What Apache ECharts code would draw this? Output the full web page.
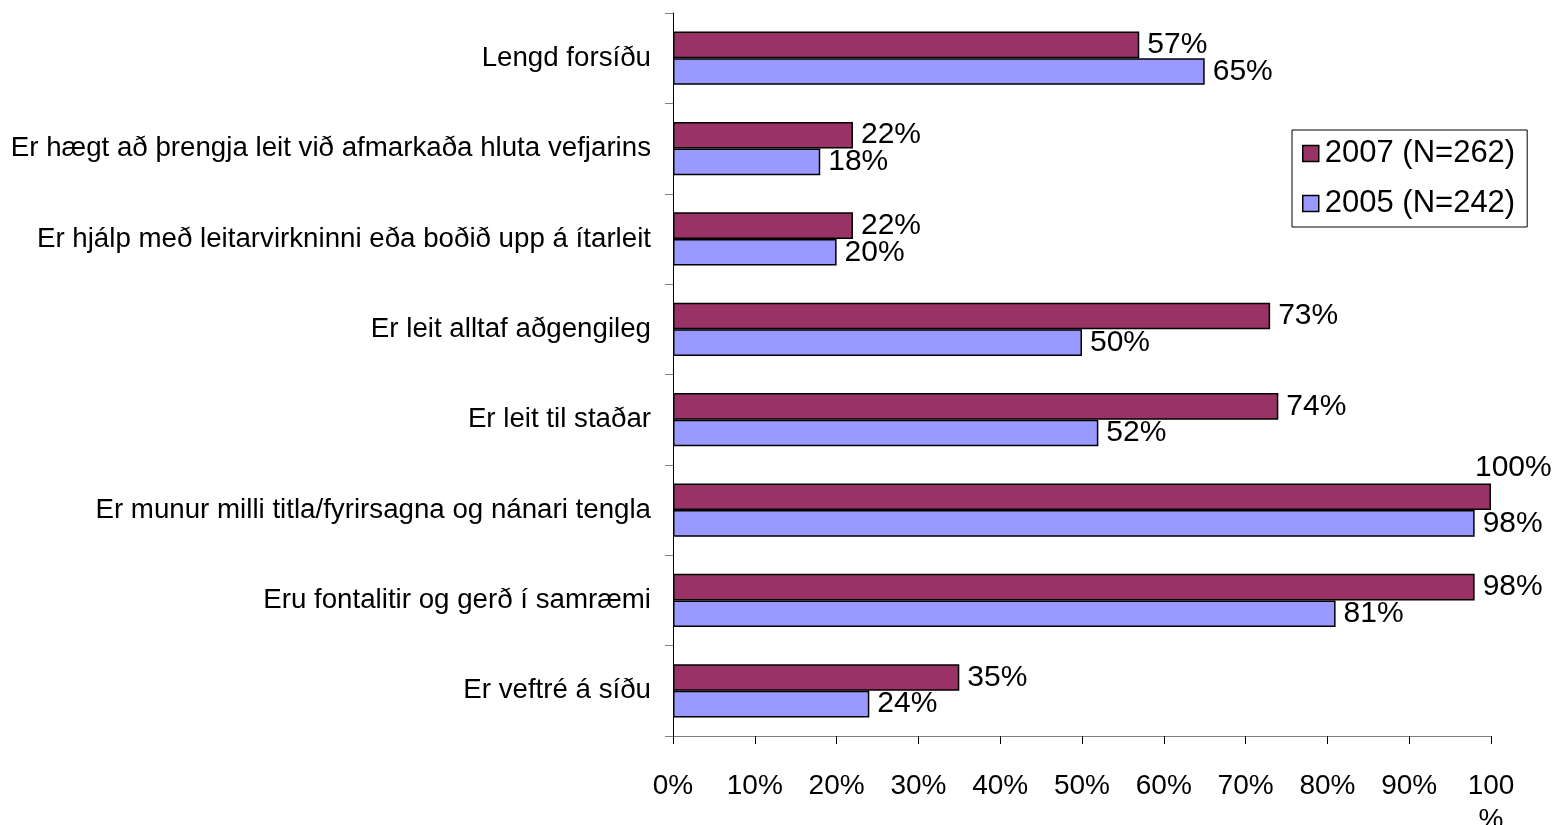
<!DOCTYPE html>
<html>
<head>
<meta charset="utf-8">
<script src="https://cdn.jsdelivr.net/npm/echarts@6/dist/echarts.min.js"></script>
<style>
    html, body { margin: 0; padding: 0; background: #fff; }
    #chart { width: 1556px; height: 825px; }
</style>
</head>
<body>
<div id="chart"></div>
<script>
var categories = [
    'Lengd forsíðu',
    'Er hægt að þrengja leit við afmarkaða hluta vefjarins',
    'Er hjálp með leitarvirkninni eða boðið upp á ítarleit',
    'Er leit alltaf aðgengileg',
    'Er leit til staðar',
    'Er munur milli titla/fyrirsagna og nánari tengla',
    'Eru fontalitir og gerð í samræmi',
    'Er veftré á síðu'
];
var seriesNames = ['2007 (N=262)', '2005 (N=242)'];
var values2007 = [57, 22, 22, 73, 74, 100, 98, 35];
var values2005 = [65, 18, 20, 50, 52, 98, 81, 24];
var xTicks = [0, 10, 20, 30, 40, 50, 60, 70, 80, 90, 100];

var FONT = 'Liberation Sans, Arial, sans-serif';

function buildData(values) {
    var data = [];
    for (var i = 0; i < values.length; i++) {
        var item = { value: values[i] };
        if (values[i] >= 100) {
            // no room on the right, label sits above the bar
            item.label = { offset: [-24, -29] };
        }
        data.push(item);
    }
    return data;
}

function genSeries(name, values, color) {
    return {
        name: name,
        type: 'bar',
        data: buildData(values),
        barGap: '0%',
        barCategoryGap: '41%',
        itemStyle: {
            color: color,
            borderColor: '#000',
            borderWidth: 1.5
        },
        label: {
            show: true,
            position: 'right',
            distance: 8,
            formatter: '{c}%',
            color: '#000',
            fontFamily: FONT,
            fontSize: 30
        }
    };
}

function initChart() {
    var chart = echarts.init(document.getElementById('chart'));
    var option = {
        animation: false,
        textStyle: { fontFamily: FONT },
        grid: {
            left: 673,
            right: 65,
            top: 13,
            bottom: 89,
            containLabel: false,
            outerBoundsMode: 'none'
        },
        legend: {
            orient: 'vertical',
            left: 1292,
            top: 130,
            padding: [8, 12, 8, 10],
            itemGap: 19,
            itemWidth: 16,
            itemHeight: 16,
            borderColor: '#000',
            borderWidth: 1,
            backgroundColor: '#fff',
            icon: 'rect',
            itemStyle: { borderColor: '#000', borderWidth: 1.5 },
            textStyle: { color: '#000', fontSize: 31, fontFamily: FONT, padding: [0, 0, 0, 1] },
            data: seriesNames
        },
        xAxis: {
            type: 'value',
            min: xTicks[0],
            max: xTicks[xTicks.length - 1],
            interval: xTicks[1] - xTicks[0],
            axisLine: { show: true, lineStyle: { color: '#808080', width: 1 } },
            axisTick: { show: true, length: 8, lineStyle: { color: '#000' } },
            splitLine: { show: false },
            axisLabel: {
                margin: 33,
                color: '#000',
                fontSize: 28,
                fontFamily: FONT,
                lineHeight: 34,
                verticalAlign: 'top',
                formatter: function (v) {
                    return v === 100 ? '100\n%' : v + '%';
                }
            }
        },
        yAxis: {
            type: 'category',
            inverse: true,
            data: categories,
            axisLine: { show: true, lineStyle: { color: '#000', width: 1 } },
            axisTick: { show: true, length: 8, lineStyle: { color: '#808080' } },
            axisLabel: {
                margin: 22,
                color: '#000',
                fontSize: 27.7,
                fontFamily: FONT
            }
        },
        series: [
            genSeries(seriesNames[0], values2007, '#993366'),
            genSeries(seriesNames[1], values2005, '#9999FF')
        ]
    };
    chart.setOption(option);
    window.onresize = function () {
        chart.resize();
    };
}

initChart();
</script>
</body>
</html>
